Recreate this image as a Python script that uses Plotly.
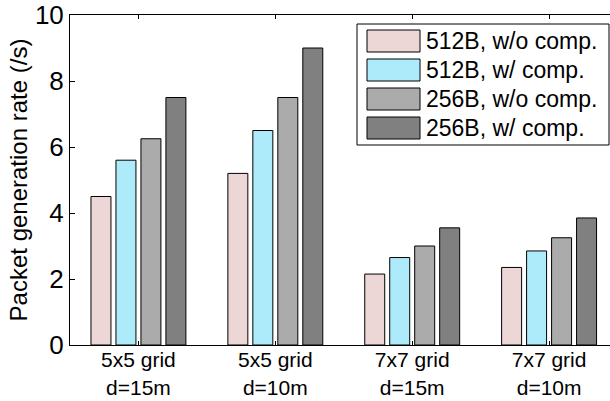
import plotly.graph_objects as go

categories = ["5x5 grid<br>d=15m", "5x5 grid<br>d=10m", "7x7 grid<br>d=15m", "7x7 grid<br>d=10m"]
series_names = ["512B, w/o comp.", "512B, w/ comp.", "256B, w/o comp.", "256B, w/ comp."]
s512_wo = [4.5, 5.2, 2.15, 2.35]
s512_w = [5.6, 6.5, 2.65, 2.85]
s256_wo = [6.25, 7.5, 3.0, 3.25]
s256_w = [7.5, 9.0, 3.55, 3.85]
colors = ["#ECD6D6", "#ADEBFB", "#ABABAB", "#808080"]

W, H = 610, 401
ML, MT, MB = 70, 15, 56
PW, PH = W - ML, H - MT - MB


def px(xp):
    return (xp - ML) / PW


def py(yp):
    return (H - MB - yp) / PH


x = [1, 2, 3, 4]
fig = go.Figure()
for name, vals, c in zip(series_names, [s512_wo, s512_w, s256_wo, s256_w], colors):
    fig.add_trace(go.Bar(x=x, y=vals, name=name, showlegend=False,
                         marker=dict(color=c, line=dict(color="black", width=1))))

# Legend drawn as box + swatches + labels (MATLAB style, large swatches)
shapes = [dict(type="rect", xref="paper", yref="paper", x0=px(357), x1=px(609), y0=py(145), y1=py(24),
               line=dict(color="black", width=1), fillcolor="white", layer="above")]
annotations = []
row_top = [30, 59, 88, 117]
for i, (name, c) in enumerate(zip(series_names, colors)):
    t = row_top[i]
    shapes.append(dict(type="rect", xref="paper", yref="paper", x0=px(367), x1=px(420),
                       y0=py(t + 22), y1=py(t), line=dict(color="black", width=1),
                       fillcolor=c, layer="above"))
    annotations.append(dict(xref="paper", yref="paper", x=px(424), y=py(t + 11), text=name,
                            showarrow=False, xanchor="left", yanchor="middle",
                            font=dict(size=23, color="black")))

fig.update_layout(
    width=W, height=H,
    margin=dict(l=ML, r=0, t=MT, b=MB),
    paper_bgcolor="white", plot_bgcolor="white",
    barmode="group", bargap=0.27, bargroupgap=0.2,
    font=dict(family="Liberation Sans, Arial, sans-serif", color="black"),
    showlegend=False,
    shapes=shapes, annotations=annotations,
)
fig.update_xaxes(range=[0.5, 4.445], tickmode="array", tickvals=x, ticktext=categories,
                 showline=True, linecolor="black", linewidth=1, mirror="ticks",
                 ticks="inside", ticklen=4, tickcolor="black", tickfont=dict(size=21),
                 ticklabelstandoff=-4,
                 showgrid=False, zeroline=False, automargin=False)
fig.update_yaxes(range=[0, 10], dtick=2, showline=True, linecolor="black", linewidth=1,
                 mirror=False, ticks="inside", ticklen=5, tickcolor="black",
                 tickfont=dict(size=26), showgrid=False, zeroline=False, automargin=False,
                 title=dict(text="Packet generation rate (/s)", font=dict(size=24), standoff=0))
fig.write_html("out.html")
